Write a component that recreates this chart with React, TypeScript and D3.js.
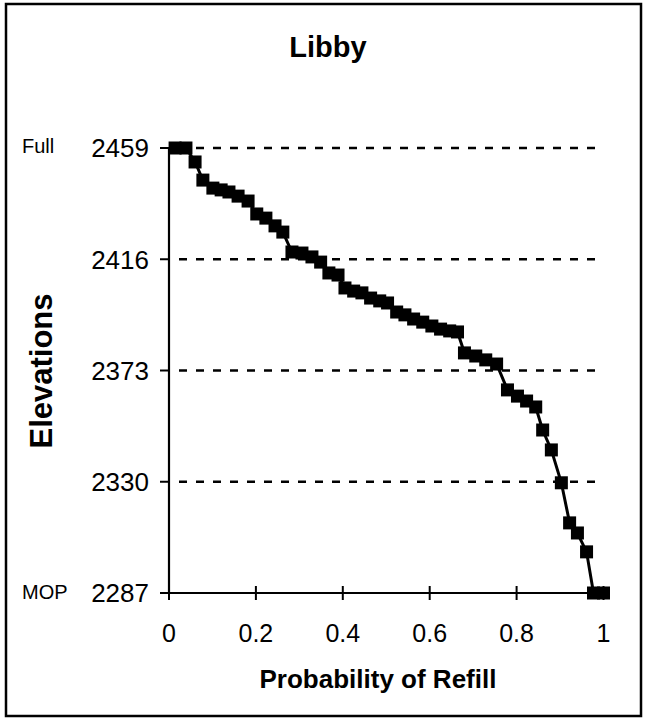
import React from "react";
import * as d3 from "d3";

const probability = [
  0.014, 0.039, 0.06, 0.078, 0.101, 0.12, 0.138, 0.159, 0.182, 0.202,
  0.223, 0.244, 0.262, 0.283, 0.306, 0.329, 0.349, 0.368, 0.389, 0.405,
  0.425, 0.444, 0.464, 0.485, 0.503, 0.524, 0.543, 0.563, 0.584, 0.605,
  0.625, 0.646, 0.664, 0.68, 0.706, 0.729, 0.754, 0.779, 0.802, 0.823,
  0.844, 0.86, 0.88, 0.903, 0.922, 0.94, 0.961, 0.977, 1.0,
];
const elevation = [
  2459, 2459, 2453.6, 2446.6, 2443.5, 2442.8, 2442.0, 2440.4, 2438.5, 2433.5,
  2431.9, 2428.9, 2426.5, 2418.8, 2418.4, 2416.9, 2414.9, 2410.7, 2409.9, 2404.9,
  2403.7, 2403.0, 2401.0, 2399.9, 2399.1, 2395.6, 2394.5, 2392.9, 2391.7, 2390.2,
  2389.0, 2388.3, 2387.9, 2379.8, 2378.6, 2377.1, 2375.5, 2365.5, 2363.1, 2361.2,
  2358.9, 2350.0, 2342.3, 2329.6, 2314.1, 2310.2, 2302.9, 2287, 2287,
];
const yTicks = [2287, 2330, 2373, 2416, 2459];
const xTicks = [0, 0.2, 0.4, 0.6, 0.8, 1];
const title = "Libby";
const xTitle = "Probability of Refill";
const yTitle = "Elevations";
const topLabel = "Full";
const bottomLabel = "MOP";

export default function App() {
  const W = 649;
  const H = 723;
  const x0 = 169;
  const y0 = 593;
  const yTop = 148;
  const x = d3.scaleLinear().domain([0, 1]).range([x0, 603.5]);
  const y = d3.scaleLinear().domain([2287, 2459]).range([y0, yTop]);
  const gridEnd = 596;
  const axisEnd = 610;
  const font = "'Liberation Sans', Arial, Helvetica, sans-serif";
  const pts = probability.map((p, i) => [x(p), y(elevation[i])] as [number, number]);
  const line = d3.line()(pts) || "";
  const ms = 13;

  return (
    <div style={{ position: "absolute", left: 0, top: 0 }}>
      <svg width={W} height={H} style={{ display: "block", background: "#fff" }}>
        <rect x={6} y={4} width={635} height={712} fill="#fff" stroke="#000" strokeWidth={2.5} />
        <text x={328} y={57} textAnchor="middle" fontFamily={font} fontWeight="bold" fontSize={29}>
          {title}
        </text>
        {yTicks.filter((t) => t !== 2287).map((t) => (
          <line key={"g" + t} x1={x0} x2={gridEnd} y1={y(t)} y2={y(t)} stroke="#000" strokeWidth={2.5} strokeDasharray="8 9" strokeDashoffset={-10} />
        ))}
        {/* y axis */}
        <line x1={x0} x2={x0} y1={yTop} y2={y0} stroke="#000" strokeWidth={2.2} />
        {yTicks.map((t) => (
          <g key={"yt" + t}>
            <line x1={x0 - 9} x2={x0} y1={y(t)} y2={y(t)} stroke="#000" strokeWidth={2} />
            <text x={149} y={y(t)} dy="0.36em" textAnchor="end" fontFamily={font} fontSize={26}>
              {t}
            </text>
          </g>
        ))}
        <text x={22} y={y(2459)} dy="0.25em" fontFamily={font} fontSize={20}>
          {topLabel}
        </text>
        <text x={22} y={y(2287)} dy="0.3em" fontFamily={font} fontSize={20}>
          {bottomLabel}
        </text>
        {/* x axis */}
        <line x1={x0} x2={axisEnd} y1={y0} y2={y0} stroke="#000" strokeWidth={2.2} />
        {xTicks.map((t) => (
          <g key={"xt" + t}>
            <line x1={x(t)} x2={x(t)} y1={y0 - 7} y2={y0 + 7} stroke="#000" strokeWidth={2} />
            <text x={x(t)} y={642} textAnchor="middle" fontFamily={font} fontSize={25}>
              {t}
            </text>
          </g>
        ))}
        <text x={378} y={688} textAnchor="middle" fontFamily={font} fontWeight="bold" fontSize={26}>
          {xTitle}
        </text>
        <text transform={`translate(52,371) rotate(-90)`} textAnchor="middle" fontFamily={font} fontWeight="bold" fontSize={31}>
          {yTitle}
        </text>
        <path d={line} fill="none" stroke="#000" strokeWidth={3} />
        {pts.map(([px, py], i) => (
          <rect key={"m" + i} x={px - ms / 2} y={py - ms / 2} width={ms} height={ms} fill="#000" />
        ))}
      </svg>
    </div>
  );
}
